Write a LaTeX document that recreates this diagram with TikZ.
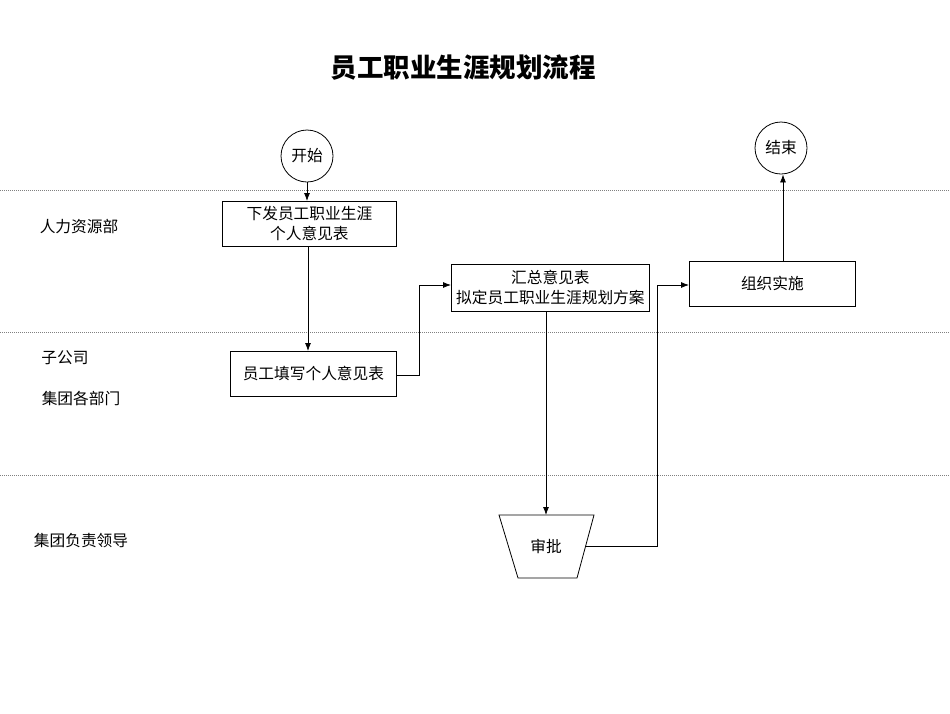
\documentclass[tikz,border=0pt]{standalone}
\usepackage{fontspec}
\setmainfont{Noto Sans CJK SC}
\usetikzlibrary{arrows.meta}
\begin{document}
\begin{tikzpicture}[x=1pt,y=-1pt,
  every node/.style={font=\fontsize{15.7}{20}\selectfont, inner sep=0pt},
  procbox/.style={draw, line width=0.8pt, align=center, anchor=north west},
  termcirc/.style={draw, circle, line width=0.8pt, minimum size=52pt},
  lane/.style={gray, line width=0.7pt, dash pattern=on 1pt off 1pt},
  conn/.style={line width=0.8pt, -{Latex[length=8pt,width=6pt]}},
  lanelabel/.style={anchor=center}]
\useasboundingbox (0,0) rectangle (950,713);
\fill[white] (0,0) rectangle (950,713);
% title
\node[font=\fontsize{26.5}{30}\selectfont\bfseries] (title) at (463,68) {员工职业生涯规划流程};
% lanes
\draw[lane] (0,190) -- (950,190);
\draw[lane] (0,332) -- (950,332);
\draw[lane] (0,475) -- (950,475);
% lane labels
\node[lanelabel] (l1) at (79,227) {人力资源部};
\node[lanelabel] (l2) at (65,358) {子公司};
\node[lanelabel] (l3) at (81,398) {集团各部门};
\node[lanelabel] (l4) at (81,541) {集团负责领导};
% terminals
\node[termcirc] (start) at (307,156) {开始};
\node[termcirc] (end) at (781,148) {结束};
% boxes
\node[procbox, minimum width=174pt, minimum height=45pt] (b1) at (222,201) {下发员工职业生涯\\个人意见表};
\node[procbox, minimum width=166pt, minimum height=45pt] (b2) at (230,351) {员工填写个人意见表};
\node[procbox, minimum width=198pt, minimum height=47pt] (b3) at (451,264) {汇总意见表\\拟定员工职业生涯规划方案};
\node[procbox, minimum width=166pt, minimum height=45pt] (b4) at (689,261) {组织实施};
% trapezoid (approval)
\draw[line width=0.8pt] (499,515) -- (594,515) -- (577,578) -- (518,578) -- cycle;
\node (t) at (546,546.5) {审批};
\coordinate (ttop) at (546,515);
\coordinate (tright) at (585.5,546);
% connectors
\draw[conn] (start.south) -- (b1.north -| start.south);
\draw[conn] (b1.south -| 308,0) -- (b2.north -| 308,0);
\coordinate (c1) at (419,375);
\coordinate (c2) at (419,285);
\draw[conn] (b2.east |- c1) -- (c1) -- (c2) -- (b3.west |- c2);
\draw[conn] (b3.south -| ttop) -- (ttop);
\coordinate (c3) at (657,546);
\coordinate (c4) at (657,285);
\draw[conn] (tright) -- (c3) -- (c4) -- (b4.west |- c4);
\draw[conn] (b4.north -| 783,0) -- (end.south -| 783,0);
\end{tikzpicture}
\end{document}
